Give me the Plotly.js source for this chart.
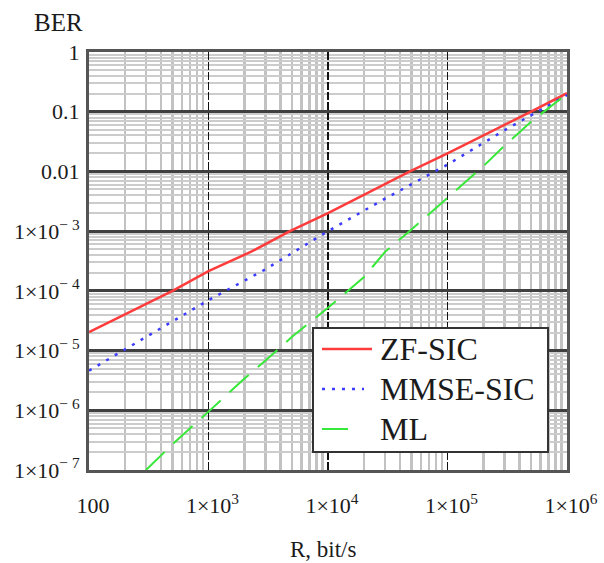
<!DOCTYPE html>
<html>
<head>
<meta charset="utf-8">
<script src="https://cdn.plot.ly/plotly-3.0.1.min.js"></script>
<style>
  html, body { margin: 0; padding: 0; background: #ffffff; }
  #chart { width: 604px; height: 563px; }
</style>
</head>
<body>
<div id="chart"></div>
<script>
// ---- data ----
const zfR   = [100, 500, 1000, 2300, 4800, 10000, 48500, 100000, 500000, 1000000];
const zfBER = [2.04e-5, 1.0e-4, 2.14e-4, 4.57e-4, 1.0e-3, 2.0e-3, 0.01, 0.02, 0.1, 0.204];

const mmseR   = [100, 300, 1000, 3000, 10000, 30000, 100000, 300000, 1000000];
const mmseBER = [4.6e-6, 1.66e-5, 7.0e-5, 2.3e-4, 1.0e-3, 3.5e-3, 0.013, 0.049, 0.19];

const mlR   = [300, 500, 1000, 2000, 3000, 5000, 10000, 20000, 30000, 50000, 100000, 200000, 300000, 500000, 1000000];
const mlBER = [1.0e-7, 2.7e-7, 9.5e-7, 3.4e-6, 6.8e-6, 1.7e-5, 5.2e-5, 1.7e-4, 4.5e-4, 1.07e-3, 3.6e-3, 0.0123, 0.027, 0.068, 0.2];

const seriesNames = ["ZF-SIC", "MMSE-SIC", "ML"];

const xTickVals = [100, 1e3, 1e4, 1e5, 1e6];
const xTickText = ["100", "1×10<sup>3</sup>", "1×10<sup>4</sup>", "1×10<sup>5</sup>", "1×10<sup>6</sup>"];
const yTickVals = [1e-7, 1e-6, 1e-5, 1e-4, 1e-3, 0.01, 0.1, 1];
const yTickText = ["1×10<sup>− 7</sup>", "1×10<sup>− 6</sup>", "1×10<sup>− 5</sup>", "1×10<sup>− 4</sup>",
                   "1×10<sup>− 3</sup>", "0.01", "0.1", "1"];

// minor grid positions (2..9 in every decade)
function minorVals(lo, hi) {
  const v = [];
  for (let e = lo; e < hi; e++) for (let k = 2; k <= 9; k++) v.push(k * Math.pow(10, e));
  return v;
}

const serif = "'Liberation Serif', 'Times New Roman', serif";
const colors = ["#ff3c3c", "#3c3cff", "#38e838"];
const dashes = ["solid", "3px,7px", "26px,12px"];
const widths = [2.5, 2.5, 2];

const traces = [
  { x: zfR, y: zfBER, name: seriesNames[0], mode: "lines", type: "scatter", showlegend: false,
    line: { color: colors[0], width: widths[0], dash: dashes[0] } },
  { x: mmseR, y: mmseBER, name: seriesNames[1], mode: "lines", type: "scatter", showlegend: false,
    line: { color: colors[1], width: widths[1], dash: dashes[1] } },
  { x: mlR, y: mlBER, name: seriesNames[2], mode: "lines", type: "scatter", showlegend: false,
    line: { color: colors[2], width: widths[2], dash: dashes[2] } }
];

// ---- legend box (drawn as shapes + text, positions in paper coordinates) ----
const legBox = { x0: 0.4686, x1: 0.9603, y0: 0.0431, y1: 0.3397 };
const legRowY = [0.2895, 0.1938, 0.0981];
const legLineX0 = 0.4874;
const legLineX1 = [0.5921, 0.5753, 0.5502];
const legTextX = 0.6046;

const shapes = [
  { type: "rect", xref: "paper", yref: "paper", layer: "above",
    x0: legBox.x0, x1: legBox.x1, y0: legBox.y0, y1: legBox.y1,
    fillcolor: "#ffffff", line: { color: "#333333", width: 2 } }
];
const annotations = [
  { text: "BER", xref: "paper", yref: "paper", x: -0.119, y: 1.0706,
    xanchor: "left", yanchor: "middle", showarrow: false,
    font: { family: serif, size: 25, color: "#1b1b1b" } },
  { text: "R, bit/s", xref: "paper", yref: "paper", x: 0.4906, y: -0.19,
    xanchor: "center", yanchor: "middle", showarrow: false,
    font: { family: serif, size: 23, color: "#1b1b1b" } }
];
seriesNames.forEach((nm, i) => {
  shapes.push({ type: "line", xref: "paper", yref: "paper", layer: "above",
    x0: legLineX0, x1: legLineX1[i], y0: legRowY[i], y1: legRowY[i],
    line: { color: colors[i], width: widths[i], dash: dashes[i] } });
  annotations.push({ text: nm, xref: "paper", yref: "paper", x: legTextX, y: legRowY[i],
    xanchor: "left", yanchor: "middle", showarrow: false,
    font: { family: serif, size: 32, color: "#1b1b1b" } });
});

const layout = {
  width: 604, height: 563,
  margin: { l: 89, r: 37, t: 52, b: 93 },
  paper_bgcolor: "#ffffff", plot_bgcolor: "#ffffff",
  showlegend: false,
  font: { family: serif, color: "#1b1b1b" },
  xaxis: {
    type: "log", range: [2, 6], autorange: false,
    tickmode: "array", tickvals: xTickVals, ticktext: xTickText,
    tickfont: { family: serif, size: 22, color: "#1b1b1b" },
    ticks: "", ticklabelstandoff: 14, ticklabelshift: 4,
    showgrid: true, gridcolor: "#111111", gridwidth: 1.5, griddash: "8px,2px",
    minor: { tickmode: "array", tickvals: minorVals(2, 6), showgrid: true, gridcolor: "#c2c2c2",
             gridwidth: 2.2, griddash: "solid", ticks: "" },
    showline: true, mirror: true, linecolor: "#555555", linewidth: 3,
    zeroline: false
  },
  yaxis: {
    type: "log", range: [-7, 0], autorange: false,
    tickmode: "array", tickvals: yTickVals, ticktext: yTickText,
    tickfont: { family: serif, size: 22, color: "#1b1b1b" },
    ticks: "", ticklabelstandoff: 2,
    showgrid: true, gridcolor: "#404040", gridwidth: 3, griddash: "solid",
    minor: { tickmode: "array", tickvals: minorVals(-7, 0), showgrid: true, gridcolor: "#cccccc",
             gridwidth: 2, griddash: "solid", ticks: "" },
    showline: true, mirror: true, linecolor: "#555555", linewidth: 3,
    zeroline: false
  },
  shapes: shapes,
  annotations: annotations
};

Plotly.newPlot("chart", traces, layout, { staticPlot: true, displayModeBar: false });
</script>
</body>
</html>
